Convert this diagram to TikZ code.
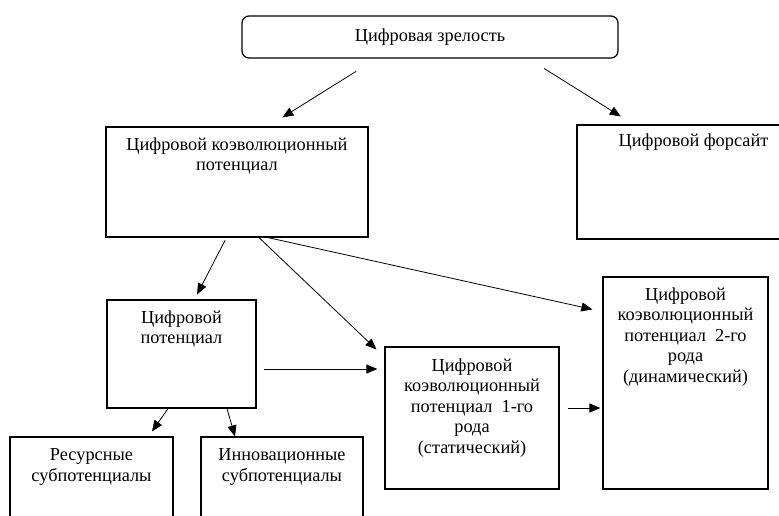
\documentclass[tikz,border=0pt]{standalone}
\usepackage{fontspec}
\setmainfont{Liberation Serif}
\usetikzlibrary{positioning,arrows.meta}
\begin{document}
\begin{tikzpicture}[
        x=1pt, y=-1pt,
        box/.style={draw, line width=1.2pt, inner sep=0pt},
        txt/.style={align=center, inner sep=0pt, font=\fontsize{18.3}{20.5}\selectfont},
        forward/.style={-{Triangle[length=11pt,width=9pt]}, line width=0.8pt},
        node distance=12pt
    ]
    \useasboundingbox (0,0) rectangle (779,516);
    \clip (0,0) rectangle (779,516);
    % boxes
    \node[box, txt, rounded corners=7pt, minimum width=376pt, minimum height=42pt] (zr) at (430,37) {Цифровая зрелость};
    \node[box, minimum width=262pt, minimum height=110pt] (cod) at (237,182) {};
    \node[box, minimum width=233pt, minimum height=114pt] (fors) at (693.5,182) {};
    \node[box, minimum width=149pt, minimum height=108pt] (pot) at (181.5,354) {};
    \node[box, minimum width=174pt, minimum height=142pt] (st1) at (472,418) {};
    \node[box, minimum width=165pt, minimum height=212pt] (st2) at (685.5,383) {};
    \node[box, minimum width=163pt, minimum height=103pt] (res) at (91.5,488.5) {};
    \node[box, minimum width=162pt, minimum height=103pt] (inn) at (282,488.5) {};
    % texts
    \node[txt, below=11pt of cod.north] (codt) {Цифровой коэволюционный\\потенциал};
    \node[txt, below=9pt of fors.north] (forst) {Цифровой форсайт};
    \node[txt, below=11pt of pot.north] (pott) {Цифровой\\потенциал};
    \node[txt, below=12pt of st1.north] (st1t) {Цифровой\\коэволюционный\\потенциал\ \ 1-го\\рода\\(статический)};
    \node[txt, below=11pt of st2.north] (st2t) {Цифровой\\коэволюционный\\потенциал\ \ 2-го\\рода\\(динамический)};
    \node[txt, below=12pt of res.north] (rest) {Ресурсные\\субпотенциалы};
    \node[txt, below=12pt of inn.north] (innt) {Инновационные\\субпотенциалы};
    % arrows
    \draw[forward, shorten <=24pt, shorten >=17pt] ([xshift=-53.5pt]zr.south) -- ([xshift=31pt]cod.north);
    \draw[forward, shorten <=18.6pt, shorten >=15pt] ([xshift=98.3pt]zr.south) -- ([xshift=-60pt]fors.north);
    \draw[forward, shorten <=3pt, shorten >=5.6pt] ([xshift=-10.5pt]cod.south) -- ([xshift=13pt]pot.north);
    \draw[forward] ([xshift=22pt]cod.south) -- ([xshift=-8pt,yshift=-3pt]st1.north west);
    \draw[forward] ([xshift=31pt]cod.south) -- ([xshift=-10pt,yshift=-33pt]st2.north west);
    \draw[forward, shorten <=7pt, shorten >=7pt] ([yshift=-15pt]pot.east) -- ([yshift=-15pt]pot.east -| st1.west);
    \draw[forward, shorten <=8pt, shorten >=2pt] ([yshift=10pt]st1.east) -- ([yshift=10pt]st1.east -| st2.west);
    \draw[forward, shorten >=6pt] ([xshift=-13.5pt]pot.south) -- ([xshift=57pt]res.north);
    \draw[forward] ([xshift=45.5pt]pot.south) -- ([xshift=-47pt]inn.north);
\end{tikzpicture}
\end{document}
